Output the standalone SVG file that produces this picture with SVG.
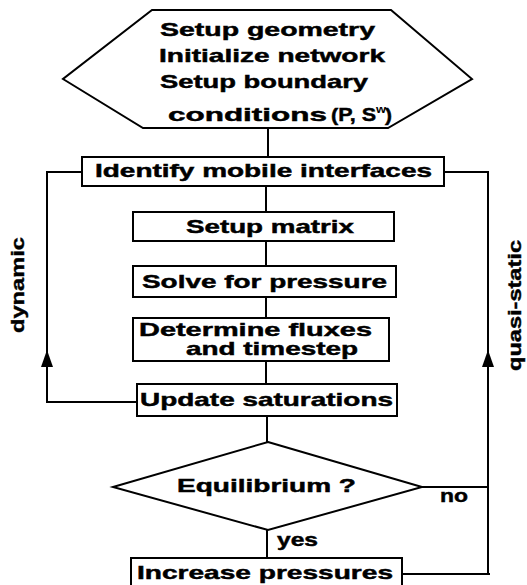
<svg xmlns="http://www.w3.org/2000/svg" width="527" height="585" viewBox="0 0 527 585">
  <style>
    .shape { fill: #ffffff; stroke: #000000; stroke-width: 2; }
    .wire { fill: none; stroke: #000000; stroke-width: 2; }
    .lbl { font-family: "Liberation Sans", Arial, Helvetica, sans-serif; font-weight: bold; font-size: 18.5px; fill: #000000; stroke: #000000; stroke-width: 0.45; }
    .side { font-family: "Liberation Sans", Arial, Helvetica, sans-serif; font-weight: bold; font-size: 19px; fill: #000000; stroke: #000000; stroke-width: 0.4; }
    .sup { font-family: "Liberation Sans", Arial, Helvetica, sans-serif; font-weight: bold; font-size: 11px; fill: #000000; }
    .arrow { fill: #000000; stroke: none; }
  </style>
  <rect width="527" height="585" fill="#ffffff"/>

  <!-- connectors -->
  <g id="connectors">
    <line class="wire" x1="268" y1="128" x2="268" y2="157"/>
    <line class="wire" x1="266" y1="186" x2="266" y2="212"/>
    <line class="wire" x1="266" y1="241" x2="266" y2="266"/>
    <line class="wire" x1="266" y1="297" x2="266" y2="318"/>
    <line class="wire" x1="266" y1="361" x2="266" y2="384"/>
    <line class="wire" x1="267" y1="416" x2="267" y2="442"/>
    <line class="wire" x1="267" y1="530" x2="267" y2="558"/>
    <!-- dynamic loop -->
    <polyline class="wire" points="137,402 47,402 47,172 82,172"/>
    <path class="arrow" d="M41,367 L47,350 L53,367 Z"/>
    <!-- quasi-static loop -->
    <polyline class="wire" points="444,172 488,172 488,575"/>
    <line class="wire" x1="422" y1="487" x2="488" y2="487"/>
    <line class="wire" x1="402" y1="574" x2="490" y2="574"/>
    <path class="arrow" d="M482,367 L488,350 L494,367 Z"/>
    <text class="side" transform="translate(24,333) rotate(-90)" textLength="96" lengthAdjust="spacingAndGlyphs">dynamic</text>
    <text class="side" transform="translate(521,371) rotate(-90)" textLength="131" lengthAdjust="spacingAndGlyphs">quasi-static</text>
    <text class="lbl" x="440" y="502" textLength="28" lengthAdjust="spacingAndGlyphs">no</text>
    <text class="lbl" x="277" y="546" textLength="41" lengthAdjust="spacingAndGlyphs">yes</text>
  </g>

  <!-- start: setup -->
  <g id="setup">
    <polygon class="shape" points="152,10 391,10 472,79 388,128 143,128 63,79"/>
    <text class="lbl" x="160" y="36" textLength="215" lengthAdjust="spacingAndGlyphs">Setup geometry</text>
    <text class="lbl" x="159" y="62" textLength="226" lengthAdjust="spacingAndGlyphs">Initialize network</text>
    <text class="lbl" x="160" y="88" textLength="208" lengthAdjust="spacingAndGlyphs">Setup boundary</text>
    <text class="lbl" x="168" y="121" textLength="159" lengthAdjust="spacingAndGlyphs">conditions</text>
    <text class="lbl" x="331" y="121" textLength="45" lengthAdjust="spacingAndGlyphs">(P, S</text>
    <text class="sup" x="376" y="113" textLength="10" lengthAdjust="spacingAndGlyphs">w</text>
    <text class="lbl" x="385" y="121" textLength="7" lengthAdjust="spacingAndGlyphs">)</text>
  </g>

  <g id="identify">
    <rect class="shape" x="82" y="157" width="362" height="29"/>
    <text class="lbl" x="95" y="177" textLength="337" lengthAdjust="spacingAndGlyphs">Identify mobile interfaces</text>
  </g>

  <g id="matrix">
    <rect class="shape" x="133" y="212" width="261" height="29"/>
    <text class="lbl" x="186" y="233" textLength="168" lengthAdjust="spacingAndGlyphs">Setup matrix</text>
  </g>

  <g id="pressure">
    <rect class="shape" x="133" y="266" width="263" height="31"/>
    <text class="lbl" x="142" y="288" textLength="245" lengthAdjust="spacingAndGlyphs">Solve for pressure</text>
  </g>

  <g id="fluxes">
    <rect class="shape" x="133" y="318" width="256" height="43"/>
    <text class="lbl" x="139" y="336" textLength="233" lengthAdjust="spacingAndGlyphs">Determine fluxes</text>
    <text class="lbl" x="186" y="355" textLength="172" lengthAdjust="spacingAndGlyphs">and timestep</text>
  </g>

  <g id="saturations">
    <rect class="shape" x="137" y="384" width="260" height="32"/>
    <text class="lbl" x="140" y="406" textLength="253" lengthAdjust="spacingAndGlyphs">Update saturations</text>
  </g>

  <g id="equilibrium">
    <polygon class="shape" points="268,442 422,487 268,530 113,487"/>
    <text class="lbl" x="177" y="492" textLength="179" lengthAdjust="spacingAndGlyphs">Equilibrium ?</text>
  </g>

  <g id="increase">
    <rect class="shape" x="131" y="558" width="271" height="34"/>
    <text class="lbl" x="137" y="579" textLength="256" lengthAdjust="spacingAndGlyphs">Increase pressures</text>
  </g>
</svg>
